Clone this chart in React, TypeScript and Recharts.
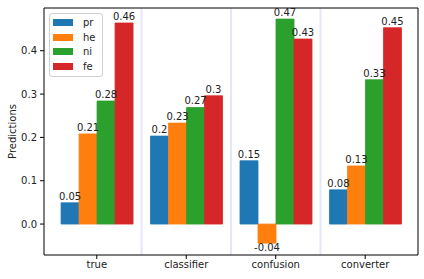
import {
  BarChart,
  Bar,
  XAxis,
  YAxis,
  Legend,
  LabelList,
  ReferenceLine,
} from "recharts";

const categories = ["true", "classifier", "confusion", "converter"];
const seriesNames = ["pr", "he", "ni", "fe"];
const colors = ["#1f77b4", "#ff7f0e", "#2ca02c", "#d62728"];

const prValues = [0.049, 0.203, 0.146, 0.079];
const heValues = [0.208, 0.233, -0.044, 0.134];
const niValues = [0.284, 0.269, 0.473, 0.333];
const feValues = [0.464, 0.296, 0.427, 0.453];

const yTicks = [0, 0.1, 0.2, 0.3, 0.4];
const dividers = [0.5, 1.5, 2.5];
const xDomain = [-0.59, 3.59];
const yDomain = [-0.0714, 0.4986];

const data = categories.map((name, i) => ({
  x: i,
  name,
  pr: prValues[i],
  he: heValues[i],
  ni: niValues[i],
  fe: feValues[i],
}));

const font = "'DejaVu Sans', sans-serif";

const fmt = (v: number) => Number(v.toFixed(2)).toString();

const renderBarLabel = (props: any) => {
  const { x, y, width, height, value } = props;
  const top = Math.min(y, y + height);
  const bottom = Math.max(y, y + height);
  const cx = x + width / 2;
  return (
    <text
      x={cx}
      y={value < 0 ? bottom + 8 : top - 3}
      textAnchor="middle"
      fontSize={10}
      fontFamily={font}
      fill="#222"
    >
      {fmt(value)}
    </text>
  );
};

const renderLegend = () => (
  <div
    style={{
      border: "1px solid #d0d0d0",
      borderRadius: 3,
      background: "rgba(255,255,255,0.8)",
      padding: "2px 6px 2px 3px",
      fontFamily: font,
      fontSize: 10,
      color: "#222",
    }}
  >
    {seriesNames.map((s, i) => (
      <div
        key={s}
        style={{ display: "flex", alignItems: "center", height: 14.5 }}
      >
        <span
          style={{
            display: "inline-block",
            width: 20,
            height: 7,
            background: colors[i],
            marginRight: 10,
          }}
        />
        <span>{s}</span>
      </div>
    ))}
  </div>
);

const App = () => {
  return (
    <div style={{ position: "absolute", left: 0, top: 0, background: "#fff" }}>
      <BarChart
        width={424}
        height={279}
        data={data}
        margin={{ top: 8, right: 6, left: 0, bottom: 0 }}
        barGap={0}
        barSize={18}
      >
        <XAxis
          dataKey="x"
          type="number"
          domain={xDomain}
          allowDataOverflow
          ticks={[0, 1, 2, 3]}
          tickFormatter={(i: number) => categories[i] ?? ""}
          height={24}
          tickSize={4}
          tickMargin={2}
          axisLine={{ stroke: "#000" }}
          tickLine={{ stroke: "#000" }}
          tick={{ fontSize: 10, fontFamily: font, fill: "#222" }}
          interval={0}
        />
        <YAxis
          type="number"
          domain={yDomain}
          allowDataOverflow
          ticks={yTicks}
          tickFormatter={(v: number) => v.toFixed(1)}
          width={44}
          tickSize={4}
          tickMargin={3}
          axisLine={{ stroke: "#000" }}
          tickLine={{ stroke: "#000" }}
          tick={{ fontSize: 10, fontFamily: font, fill: "#222" }}
          label={(p: any) => {
            const vb = p.viewBox || { x: 0, y: 8, width: 44, height: 247 };
            const cy = vb.y + vb.height / 2;
            return (
              <text
                x={12}
                y={cy}
                transform={`rotate(-90, 12, ${cy})`}
                textAnchor="middle"
                dominantBaseline="central"
                fontSize={10}
                fontFamily={font}
                fill="#222"
              >
                Predictions
              </text>
            );
          }}
        />
        {dividers.map((d) => (
          <ReferenceLine key={d} x={d} stroke="#e6e6fa" strokeWidth={2} />
        ))}
        {seriesNames.map((s, i) => (
          <Bar
            key={s}
            dataKey={s}
            name={s}
            fill={colors[i]}
            stroke={colors[i]}
            strokeWidth={0.8}
            isAnimationActive={false}
          >
            <LabelList dataKey={s} content={renderBarLabel} />
          </Bar>
        ))}
        <ReferenceLine y={yDomain[1]} stroke="#000" ifOverflow="visible" />
        <ReferenceLine x={xDomain[1]} stroke="#000" ifOverflow="visible" />
        <Legend
          layout="vertical"
          align="center"
          verticalAlign="middle"
          content={renderLegend}
          wrapperStyle={{ left: 49, top: 12.5, width: "auto" }}
        />
      </BarChart>
    </div>
  );
};

export default App;
